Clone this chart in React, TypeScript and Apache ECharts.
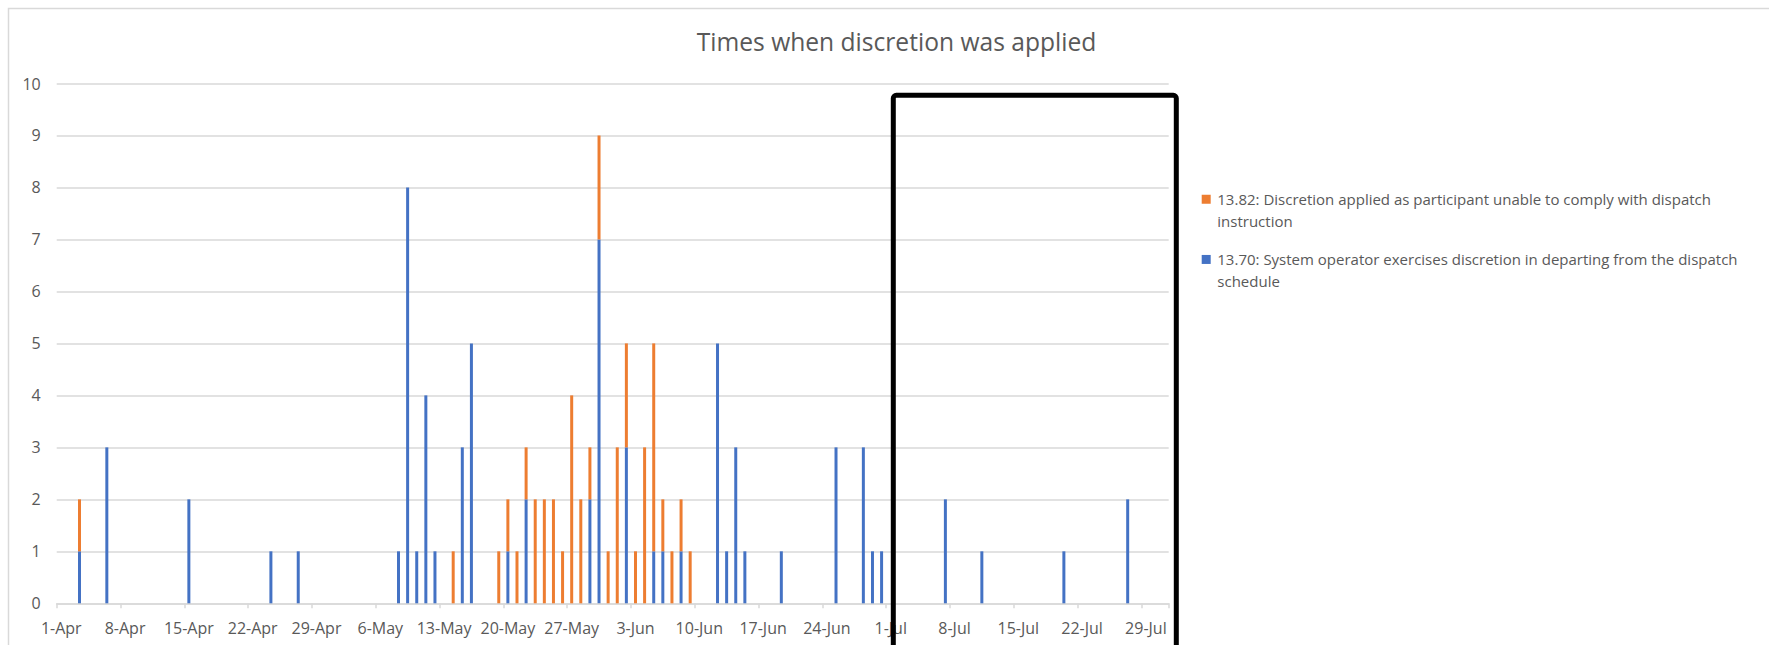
import React, { useEffect, useRef } from "react";
import * as echarts from "echarts";

// ---- data ----
const monthNames = ["Apr", "May", "Jun", "Jul"];
const monthLengths = [30, 31, 30, 31];
const categories: string[] = [];
monthNames.forEach((m, i) => {
  for (let d = 1; d <= monthLengths[i]; d++) categories.push(`${d}-${m}`);
});

const blueName = "13.70: System operator exercises discretion in departing from the dispatch schedule";
const orangeName = "13.82: Discretion applied as participant unable to comply with dispatch instruction";

const blueDates = [
  "3-Apr", "6-Apr", "15-Apr", "24-Apr", "27-Apr", "8-May", "9-May", "10-May", "11-May", "12-May",
  "15-May", "16-May", "20-May", "22-May", "29-May", "30-May", "2-Jun", "5-Jun", "6-Jun", "8-Jun",
  "12-Jun", "13-Jun", "14-Jun", "15-Jun", "19-Jun", "25-Jun", "28-Jun", "29-Jun", "30-Jun",
  "7-Jul", "11-Jul", "20-Jul", "27-Jul",
];
const blueCounts = [
  1, 3, 2, 1, 1, 1, 8, 1, 4, 1,
  3, 5, 1, 2, 2, 7, 3, 1, 1, 1,
  5, 1, 3, 1, 1, 3, 3, 1, 1,
  2, 1, 1, 2,
];

const orangeDates = [
  "3-Apr", "14-May", "19-May", "20-May", "21-May", "22-May", "23-May", "24-May", "25-May", "26-May",
  "27-May", "28-May", "29-May", "30-May", "31-May", "1-Jun", "2-Jun", "3-Jun", "4-Jun", "5-Jun",
  "6-Jun", "7-Jun", "8-Jun", "9-Jun",
];
const orangeCounts = [
  1, 1, 1, 1, 1, 1, 2, 2, 2, 1,
  4, 2, 1, 2, 1, 3, 2, 1, 3, 4,
  1, 1, 1, 1,
];

const yMin = 0;
const yMax = 10;
const yInterval = 1;

const titleText = "Times when discretion was applied";

function toSeries(dates: string[], counts: number[]) {
  const map: Record<string, number> = {};
  dates.forEach((d, i) => (map[d] = counts[i]));
  return categories.map((c) => (map[c] !== undefined ? map[c] : "-"));
}

const BLUE = "#4472C4";
const ORANGE = "#ED7D31";
const TEXT = "#595959";
const GRID = "#D9D9D9";
const FONT = "'Open Sans', sans-serif";

export default function App() {
  const ref = useRef<HTMLDivElement>(null);
  useEffect(() => {
    if (!ref.current) return;
    const chart = echarts.init(ref.current, null, { renderer: "svg" });

    const titleSize = 24.6;
    const legendSize = 15;
    const lh = 21.5;

    const legendLines: Record<string, [string, string, string]> = {
      [orangeName]: ["o", "13.82: Discretion applied as participant unable to comply with dispatch", "instruction"],
      [blueName]: ["b", "13.70: System operator exercises discretion in departing from the dispatch", "schedule"],
    };

    chart.setOption({
      animation: false,
      backgroundColor: "#ffffff",
      title: {
        text: titleText,
        left: 896.5,
        textAlign: "center",
        top: 29.4,
        padding: 0,
        textStyle: { fontFamily: FONT, fontSize: titleSize, fontWeight: "normal", color: TEXT },
      },
      legend: {
        orient: "vertical",
        left: 1196.7,
        top: 188.5,
        padding: 0,
        icon: "none",
        itemWidth: 0,
        itemHeight: 0,
        itemGap: 17.2,
        selectedMode: false,
        data: [orangeName, blueName],
        formatter: (name: string) => {
          const [k, l1, l2] = legendLines[name];
          return `{${k}|}{g|}{t|${l1}}\n{sp|}{t|${l2}}`;
        },
        textStyle: {
          fontFamily: FONT,
          fontSize: legendSize,
          color: TEXT,
          lineHeight: lh,
          rich: {
            o: { width: 9, height: 9, backgroundColor: ORANGE, lineHeight: lh },
            b: { width: 9, height: 9, backgroundColor: BLUE, lineHeight: lh },
            g: { width: 6.6, lineHeight: lh },
            sp: { width: 15.6, lineHeight: lh },
            t: { fontFamily: FONT, fontSize: legendSize, color: TEXT, lineHeight: lh },
          },
        },
      },
      grid: { left: 56.7, top: 83.5, width: 1112, height: 519.8, containLabel: false },
      xAxis: {
        type: "category",
        data: categories,
        boundaryGap: true,
        axisLine: { show: true, lineStyle: { color: GRID, width: 1.5 } },
        axisTick: { show: true, interval: 6, length: 5, alignWithLabel: false, lineStyle: { color: GRID, width: 1.5 } },
        axisLabel: { interval: 6, color: TEXT, fontFamily: FONT, fontSize: 16, margin: 17 },
        splitLine: { show: false },
      },
      yAxis: {
        type: "value",
        min: yMin,
        max: yMax,
        interval: yInterval,
        axisLine: { show: false },
        axisTick: { show: false },
        axisLabel: { color: TEXT, fontFamily: FONT, fontSize: 16, margin: 16 },
        splitLine: { lineStyle: { color: GRID, width: 1.5 } },
      },
      series: [
        {
          name: blueName,
          type: "bar",
          stack: "total",
          barWidth: 3,
          itemStyle: { color: BLUE },
          data: toSeries(blueDates, blueCounts),
        },
        {
          name: orangeName,
          type: "bar",
          stack: "total",
          barWidth: 3,
          itemStyle: { color: ORANGE },
          data: toSeries(orangeDates, orangeCounts),
        },
      ],
      graphic: [
        {
          type: "rect",
          silent: true,
          shape: { x: 8.5, y: 8.5, width: 1800, height: 638 },
          style: { fill: "none", stroke: GRID, lineWidth: 1.5 },
          z: -1,
        },
        {
          type: "rect",
          silent: true,
          shape: { x: 893.3, y: 95.3, width: 283, height: 700, r: 3 },
          style: { fill: "none", stroke: "#000000", lineWidth: 5 },
          z: 100,
        },
      ],
    });
    return () => chart.dispose();
  }, []);
  return (
    <div
      ref={ref}
      style={{ position: "fixed", left: 0, top: 0, width: 1769, height: 645 }}
    />
  );
}
